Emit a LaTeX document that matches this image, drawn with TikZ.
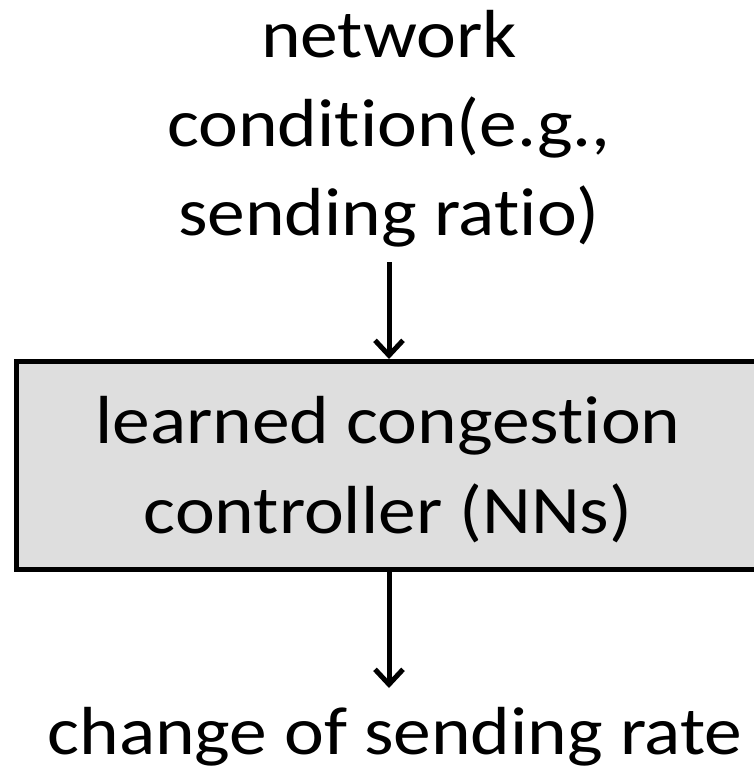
\documentclass[tikz,border=0pt]{standalone}
\usepackage{fontspec}
\setmainfont{Carlito}[Ligatures=CommonOff]
\usetikzlibrary{arrows.meta}
% stacked, slightly widened lines of text
\newcommand{\wideLines}[1]{\scalebox{1.11}[1]{\begin{tabular}[t]{@{}c@{}}#1\end{tabular}}}
\begin{document}
\begin{tikzpicture}[x=1pt,y=-1pt,
  label text/.style={font=\fontsize{68}{89}\selectfont, inner sep=0pt, anchor=base},
  flow/.style={line width=5pt, -{Straight Barb[length=15pt,width=28pt,line width=5pt]}},
  ctrlbox/.style={draw, line width=5pt, fill=black!13, minimum width=760pt, minimum height=208pt,
    anchor=north west, inner sep=0pt}]
  \useasboundingbox (0,0) rectangle (754,780);
  \clip (0,0) rectangle (754,780);
  % controller block, its right edge runs past the frame
  \node[ctrlbox] (ctrl) at (14,359) {};
  \node[label text] (ctrltext) at (388,443)
    {\wideLines{learned congestion\\[1pt]controller (NNs)}};
  % input and output labels
  \node[label text] (cond) at (389,57)
    {\wideLines{network\\condition(e.g.,\\sending ratio)}};
  \node[label text] (out) at (395,754) {\wideLines{change of sending rate}};
  % connectors
  \coordinate (inTop) at (389,262);
  \coordinate (outEnd) at (389,688);
  \draw[flow] (inTop) -- (ctrl.north -| inTop);
  \draw[flow] (ctrl.south -| inTop) -- (outEnd);
\end{tikzpicture}
\end{document}
